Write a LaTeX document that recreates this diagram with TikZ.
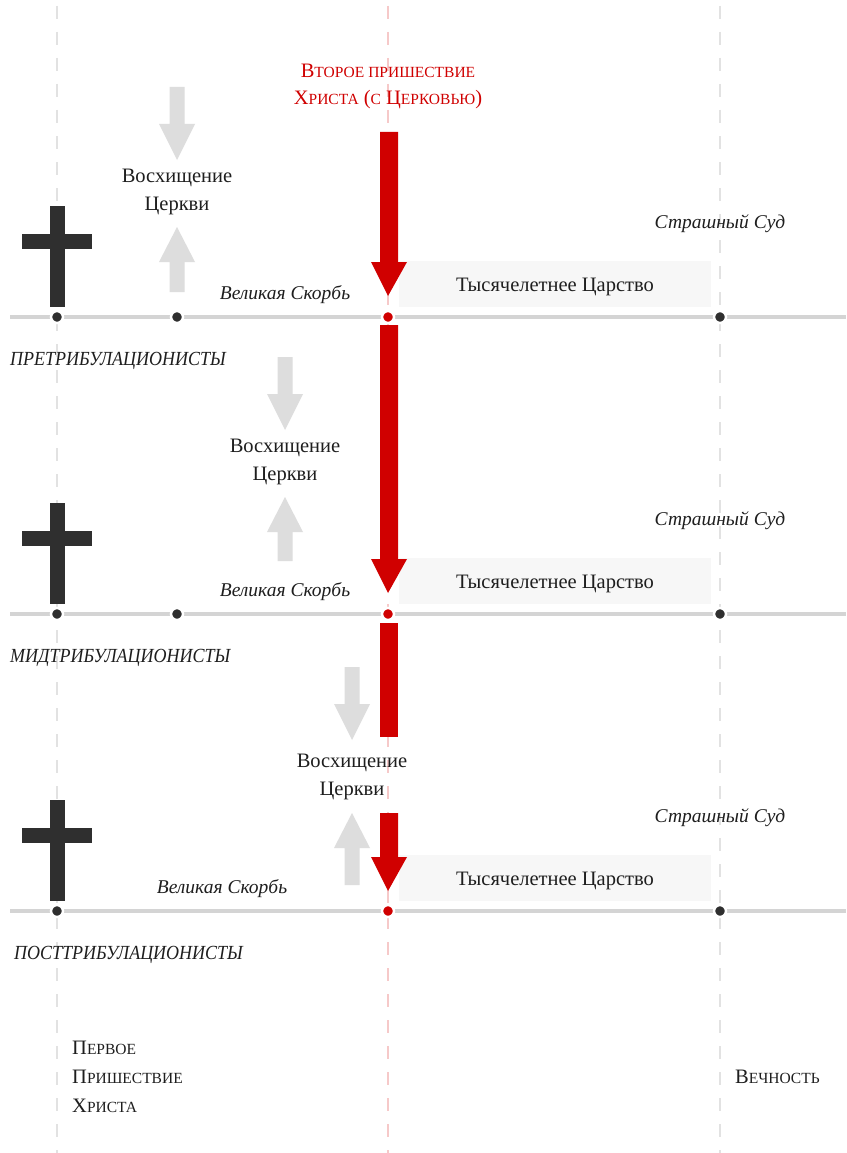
\documentclass[tikz,border=0pt]{standalone}
\usepackage{fontspec}
\setmainfont{Liberation Serif}
\newfontfamily\labfont[FakeStretch=0.9]{Liberation Serif}
\definecolor{redc}{HTML}{D00000}
\definecolor{pinkc}{HTML}{F6C9C9}
\definecolor{dashc}{HTML}{E2E2E2}
\definecolor{tlc}{HTML}{D4D4D4}
\definecolor{crossc}{HTML}{2F2F2F}
\definecolor{garrc}{HTML}{DDDDDD}
\definecolor{boxc}{HTML}{F7F7F7}
\definecolor{txtc}{HTML}{1E1E1E}
\newcommand\smc[1]{{\fontsize{15.5}{15.5}\selectfont #1}}
\tikzset{
  vdash/.style={line width=2pt, dash pattern=on 13pt off 13pt},
  tline/.style={draw=tlc, line width=4pt},
  txt/.style={text=txtc, font=\fontsize{20.5}{20.5}\selectfont, inner sep=0pt, anchor=base},
  itx/.style={text=txtc, font=\fontsize{19.5}{19.5}\selectfont\itshape, inner sep=0pt, anchor=base},
  labx/.style={text=txtc, font=\fontsize{20}{20}\selectfont\labfont\itshape, inner sep=0pt, anchor=base west},
  ttl/.style={text=redc, font=\fontsize{20.5}{20.5}\selectfont, inner sep=0pt, anchor=base},
  dot/.style={circle, fill=crossc, draw=white, line width=2.5pt, minimum size=12pt, inner sep=0pt},
  rdot/.style={circle, fill=redc, draw=white, line width=2.5pt, minimum size=12pt, inner sep=0pt},
  mbox/.style={fill=boxc, draw=none}
}
\begin{document}
\begin{tikzpicture}[x=1pt,y=-1pt]
\useasboundingbox[fill=white] (0,0) rectangle (846,1153);
% vertical dashed lines
\draw[vdash, dashc] (57,6) -- (57,1153);
\draw[vdash, pinkc] (388,6) -- (388,1153);
\draw[vdash, dashc] (720,6) -- (720,1153);

% title
\node[ttl] (title1) at (388,78) {В\smc{ТОРОЕ ПРИШЕСТВИЕ}};
\node[ttl] (title2) at (388,105) {Х\smc{РИСТА} (\smc{С} Ц\smc{ЕРКОВЬЮ})};

% rows
\foreach \r/\y/\sx/\lab/\lx in {1/317/285/ПРЕТРИБУЛАЦИОНИСТЫ/10, 2/614/285/МИДТРИБУЛАЦИОНИСТЫ/10, 3/911/222/ПОСТТРИБУЛАЦИОНИСТЫ/14}{
  \draw[tline] (10,\y) -- (846,\y);
  % cross
  \fill[crossc] (50,\y-111) rectangle (65,\y-10);
  \fill[crossc] (22,\y-83) rectangle (92,\y-68);
  % millennium box
  \fill[mbox] (399,\y-56) rectangle (711,\y-10);
  \node[txt] (mil\r) at (555,\y-26) {Тысячелетнее Царство};
  \node[itx] (jud\r) at (720,\y-89) {Страшный Суд};
  \node[itx] (trib\r) at (\sx,\y-18) {Великая Скорбь};
  \node[labx] (lab\r) at (\lx,\y+48) {\lab};
  % dots
  \node[dot] (d1\r) at (57,\y) {};
  \node[rdot] (d3\r) at (388,\y) {};
  \node[dot] (d4\r) at (720,\y) {};
}
\node[dot] (d21) at (177,317) {};
\node[dot] (d22) at (177,614) {};

% rapture gray arrows + text
\foreach \r/\cx/\top/\ba/\bb/\ut/\ub in {1/177/87/182/210/227/292, 2/285/357/452/480/497/561, 3/352/667/767/795/813/885}{
  \fill[garrc] (\cx-7.5,\top) -- (\cx+7.5,\top) -- (\cx+7.5,\top+37) -- (\cx+18,\top+37)
     -- (\cx,\top+73) -- (\cx-18,\top+37) -- (\cx-7.5,\top+37) -- cycle;
  \node[txt] (rap\r a) at (\cx,\ba) {Восхищение};
  \node[txt] (rap\r b) at (\cx,\bb) {Церкви};
  \fill[garrc] (\cx-7.5,\ub) -- (\cx+7.5,\ub) -- (\cx+7.5,\ut+35) -- (\cx+18,\ut+35)
     -- (\cx,\ut) -- (\cx-18,\ut+35) -- (\cx-7.5,\ut+35) -- cycle;
}

% red arrows
\fill[redc] (380,132) -- (398,132) -- (398,262) -- (407,262) -- (388,296) -- (371,262) -- (380,262) -- cycle;
\fill[redc] (380,325) -- (398,325) -- (398,559) -- (407,559) -- (388,593) -- (371,559) -- (380,559) -- cycle;
\fill[redc] (380,623) rectangle (398,737);
\fill[redc] (380,813) -- (398,813) -- (398,857) -- (407,857) -- (388,891) -- (371,857) -- (380,857) -- cycle;

% bottom labels
\node[txt, anchor=base west] (first1) at (72,1054) {П\smc{ЕРВОЕ}};
\node[txt, anchor=base west] (first2) at (72,1083) {П\smc{РИШЕСТВИЕ}};
\node[txt, anchor=base west] (first3) at (72,1112) {Х\smc{РИСТА}};
\node[txt, anchor=base west] (etern) at (735,1083) {В\smc{ЕЧНОСТЬ}};
\end{tikzpicture}
\end{document}
